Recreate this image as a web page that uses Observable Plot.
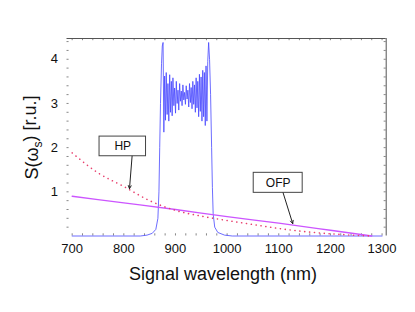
<!DOCTYPE html>
<html><head><meta charset="utf-8">
<script src="https://cdn.jsdelivr.net/npm/d3@7"></script>
<script src="https://cdn.jsdelivr.net/npm/@observablehq/plot@0.6"></script>
<style>body{margin:0;background:#fff}</style>
</head><body>
<div id="chart"></div>
<script>
// Signal spectrum (blue)
const blueW = [700, 800, 832, 845, 855, 862, 866, 868, 869.5, 871, 873, 874.5,
  876, 877.5, 879, 880.6, 882.1, 883.9, 885.4, 887.1, 888.8, 890.3, 892, 893.6, 895.1, 896.9,
  898.4, 900.1, 901.6, 903.3, 904.9, 906.4, 908.1, 909.6, 911.3, 912.8, 914.4, 916.1, 917.6,
  919.3, 920.8, 922.5, 924, 925.7, 927.2, 928.9, 930.4, 932.1, 933.6, 935.3, 936.8, 938.5,
  940, 941.7, 943.2, 944.9, 946.4, 948.1, 949.6, 951.3, 952.8, 954.5, 956, 957.7, 959.2, 960.9, 962.5, 964.2,
  966, 968, 970, 971.5, 973, 976, 982, 995, 1010, 1100, 1200, 1300];
const blueS = [0, 0, 0, 0.02, 0.06, 0.15, 0.4, 1.0, 2.0, 3.0, 3.9, 4.3,
  4.38, 2.35, 3.62, 2.62, 3.7, 2.75, 3.45, 2.6, 3.65, 2.8, 3.5, 2.72, 3.58, 2.95,
  3.35, 2.78, 3.5, 3.0, 3.3, 2.85, 3.45, 3.05, 3.28, 2.95, 3.42, 3.08, 3.25,
  2.98, 3.4, 3.1, 3.3, 2.92, 3.45, 3.02, 3.36, 2.88, 3.5, 2.98, 3.42, 2.8,
  3.58, 2.9, 3.5, 2.7, 3.66, 2.82, 3.6, 2.6, 3.75, 2.7, 3.7, 2.5, 3.85, 2.6, 3.95, 4.38,
  4.0, 3.2, 2.0, 1.1, 0.5, 0.2, 0.08, 0.02, 0, 0, 0, 0];
// HP curve (dotted)
const hpW = [700, 750, 800, 850, 900, 950, 1000, 1050, 1100, 1150, 1200, 1250, 1280];
const hpS = [1.88, 1.43, 1.12, 0.8, 0.58, 0.45, 0.35, 0.26, 0.17, 0.1, 0.05, 0.015, 0];
// OFP curve (solid)
const ofpW = [700, 800, 900, 1000, 1100, 1200, 1280];
const ofpS = [0.9, 0.75, 0.6, 0.44, 0.29, 0.13, 0];
// ticks
const xTicks = [700, 800, 900, 1000, 1100, 1200, 1300];
const yTicks = [1, 2, 3, 4];
const xMinor = [700,720,740,760,780,800,820,840,860,880,900,920,940,960,980,1000,1020,1040,1060,1080,1100,1120,1140,1160,1180,1200,1220,1240,1260,1280,1300];
const yMinor = [0.2,0.4,0.6,0.8,1,1.2,1.4,1.6,1.8,2,2.2,2.4,2.6,2.8,3,3.2,3.4,3.6,3.8,4,4.2,4.4];
// annotations
const annLabels = ["HP", "OFP"];
const annBoxX1 = [753, 1051.5], annBoxX2 = [843, 1146.3];
const annBoxY1 = [1.805, 0.977], annBoxY2 = [2.25, 1.43];
const annTailX = [816, 1108.4], annTailY = [1.805, 0.977];
const annHeadX = [811, 1127], annHeadY = [1.07, 0.28];

const xDomain = [690, 1308];
const yDomain = [0, 4.47];

const blue = blueW.map((w, i) => ({w, s: blueS[i]}));
const hp = hpW.map((w, i) => ({w, s: hpS[i]}));
const ofp = ofpW.map((w, i) => ({w, s: ofpS[i]}));
const ann = annLabels.map((t, i) => ({t, x1: annBoxX1[i], x2: annBoxX2[i], y1: annBoxY1[i], y2: annBoxY2[i],
  tx: annTailX[i], ty: annTailY[i], hx: annHeadX[i], hy: annHeadY[i]}));

const tickColor = "#888";
const plain = d3.format("d");
const svg = Plot.plot({
  width: 415, height: 312,
  marginLeft: 66.5, marginRight: 29.3, marginTop: 38, marginBottom: 76.5,
  style: {fontFamily: "'Liberation Sans', Arial, sans-serif", background: "white", color: "#111"},
  x: {domain: xDomain},
  y: {domain: yDomain},
  marks: [
    Plot.axisX({ticks: xTicks, tickFormat: plain, tickSize: 0, tickPadding: 8, fontSize: 13, label: null}),
    Plot.axisY({ticks: yTicks, tickFormat: plain, tickSize: 0, tickPadding: 9, fontSize: 13, label: null}),
    Plot.ruleY(yMinor, {y: d => d, x1: xDomain[0], x2: xDomain[0] + 4, stroke: tickColor}),
    Plot.ruleY(yMinor, {y: d => d, x1: xDomain[1] - 4, x2: xDomain[1], stroke: tickColor}),
    Plot.ruleX(xMinor, {x: d => d, y1: yDomain[0], y2: yDomain[0] + 0.05, stroke: tickColor}),
    Plot.ruleX(xMinor, {x: d => d, y1: yDomain[1] - 0.05, y2: yDomain[1], stroke: tickColor}),
    Plot.ruleY([yDomain[1]], {stroke: "#555", strokeWidth: 1}),
    Plot.ruleX([xDomain[1]], {stroke: "#555", strokeWidth: 1}),
    Plot.line(blue, {x: "w", y: "s", stroke: "#4848ff", strokeWidth: 0.8, curve: "linear"}),
    Plot.line(ofp, {x: "w", y: "s", stroke: "#cc55ff", strokeWidth: 1.3, curve: "monotone-x"}),
    Plot.line(hp, {x: "w", y: "s", stroke: "#e8406e", strokeWidth: 1.6, strokeDasharray: "0.1,4.8", strokeLinecap: "round", curve: "monotone-x"}),
    Plot.rect(ann, {x1: "x1", x2: "x2", y1: "y1", y2: "y2", fill: "white", stroke: "#444", strokeWidth: 1}),
    Plot.text(ann, {x: d => (d.x1 + d.x2) / 2, y: d => (d.y1 + d.y2) / 2, text: "t", fontSize: 12, fill: "#111"}),
    Plot.arrow(ann, {x1: "tx", y1: "ty", x2: "hx", y2: "hy", stroke: "#222", strokeWidth: 1, headLength: 5, headAngle: 50})
  ]
});

const s = d3.select(svg);
s.append("text")
  .attr("x", 223).attr("y", 280)
  .attr("text-anchor", "middle")
  .attr("font-size", 18)
  .attr("font-family", "'Liberation Sans', Arial, sans-serif")
  .attr("fill", "#111")
  .text("Signal wavelength (nm)");
const yl = s.append("text")
  .attr("transform", "translate(38,137.5) rotate(-90)")
  .attr("text-anchor", "middle")
  .attr("font-size", 18)
  .attr("font-family", "'Liberation Sans', Arial, sans-serif")
  .attr("fill", "#111");
yl.append("tspan").text("S(ω");
yl.append("tspan").attr("font-size", 12).attr("dy", "0.3em").text("s");
yl.append("tspan").attr("dy", "-0.3em").text(") [r.u.]");

document.getElementById("chart").appendChild(svg);
</script>
</body></html>
